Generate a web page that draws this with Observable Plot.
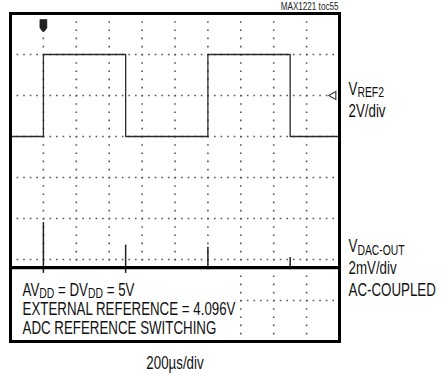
<!DOCTYPE html>
<html><head><meta charset="utf-8">
<script src="https://cdn.jsdelivr.net/npm/d3@7"></script>
<script src="https://cdn.jsdelivr.net/npm/@observablehq/plot@0.6"></script>
<style>
html,body{margin:0;padding:0;background:#fff}
</style></head><body><div id="chart"></div>
<script>
// ---- scope settings ----
const timeDomain = [0, 2000];          // µs, 200 µs/div, 10 divisions
const divDomain = [0, 8];              // vertical divisions
const gridTimes = [200, 400, 600, 800, 1000, 1200, 1400, 1600, 1800];
const gridDivs = [1, 2, 3, 4, 5, 6, 7];

// ---- channel 1: VREF2 (2 V/div) ----
const vrefTimes = [0, 200, 200, 700, 700, 1200, 1200, 1700, 1700, 2000];
const vrefVolts = [0, 0, 4.0, 4.0, 0, 0, 4.0, 4.0, 0, 0];
const vrefZeroDiv = 5;
const vrefVoltsPerDiv = 2;
const vrefMarkerDiv = 6;

// ---- channel 2: VDAC-OUT (2 mV/div, AC-coupled) ----
const dacSpikeTimes = [200, 700, 1200, 1700];
const dacSpikeTop = [2.2, 1.1, 1.0, 0.5];      // mV
const dacSpikeBottom = [-0.5, -0.5, -0.1, -0.1]; // mV
const dacZeroDiv = 1.8;
const dacMilliVoltsPerDiv = 2;

// ---- trigger ----
const triggerTime = 200;

// ---- texts ----
const noteLines = ["AV_{DD} = DV_{DD} = 5V", "EXTERNAL REFERENCE = 4.096V", "ADC REFERENCE SWITCHING"];
const ch1Label = ["V_{REF2}", "2V/div"];
const ch2Label = ["V_{DAC-OUT}", "2mV/div", "AC-COUPLED"];
const timebaseLabel = "200µs/div";
const figureId = "MAX1221 toc55";
const noteBox = {t1: 0, t2: 1370, d1: 0.04, d2: 1.66};

const FONT = '"Liberation Sans", Arial, sans-serif';
const CONDENSE = 0.74;

const vref = vrefTimes.map((t, i) => ({t, y: vrefZeroDiv + vrefVolts[i] / vrefVoltsPerDiv}));
const spikes = dacSpikeTimes.map((t, i) => ({
  t,
  y1: dacZeroDiv + dacSpikeBottom[i] / dacMilliVoltsPerDiv,
  y2: dacZeroDiv + dacSpikeTop[i] / dacMilliVoltsPerDiv
}));

const chart = Plot.plot({
  width: 441,
  height: 375,
  marginLeft: 10,
  marginRight: 102,
  marginTop: 13,
  marginBottom: 34,
  x: {domain: timeDomain, axis: null},
  y: {domain: divDomain, axis: null},
  style: {fontFamily: FONT, background: "white", color: "black", overflow: "visible"},
  marks: [
    Plot.ruleX(gridTimes, {stroke: "#555", strokeWidth: 1.6, strokeDasharray: "1.6,6.6"}),
    Plot.ruleY(gridDivs, {stroke: "#555", strokeWidth: 1.6, strokeDasharray: "1.6,4.98"}),
    Plot.line(vref, {x: "t", y: "y", stroke: "#2a2a2a", strokeWidth: 1.3}),
    Plot.ruleX(spikes, {x: "t", y1: "y1", y2: "y2", stroke: "#222", strokeWidth: 1.5}),
    Plot.ruleY([dacZeroDiv], {stroke: "black", strokeWidth: 3.2}),
    Plot.rect([noteBox], {x1: "t1", x2: "t2", y1: "d1", y2: "d2", fill: "white"}),
    Plot.text([noteLines.join("\n")], {
      frameAnchor: "bottom-left", dx: 12, dy: -59, lineAnchor: "top",
      textAnchor: "start", fontSize: 18, lineHeight: 1.06, fill: "#111"
    }),
    Plot.text([ch1Label.join("\n")], {
      y: () => vrefMarkerDiv, frameAnchor: "right", dx: 9, dy: -16, lineAnchor: "top",
      textAnchor: "start", fontSize: 18, lineHeight: 1.22, fill: "#111"
    }),
    Plot.text([ch2Label.join("\n")], {
      y: () => dacZeroDiv, frameAnchor: "right", dx: 9, dy: -31, lineAnchor: "top",
      textAnchor: "start", fontSize: 18, lineHeight: 1.22, fill: "#111"
    }),
    Plot.text([timebaseLabel], {
      frameAnchor: "bottom", dy: 22, lineAnchor: "middle", fontSize: 18, fill: "#111"
    }),
    Plot.text([figureId], {
      frameAnchor: "top-right", textAnchor: "end", lineAnchor: "middle", dx: -1, dy: -7,
      fontSize: 11, fill: "#222"
    }),
    Plot.dot([triggerTime], {
      x: d => d, frameAnchor: "top", dy: 12, r: 5, fill: "#222", stroke: "#222", strokeWidth: 0.6,
      symbol: {draw(ctx, size) {
        ctx.moveTo(-3.5, -6); ctx.lineTo(3.5, -6); ctx.lineTo(3.5, 2.5);
        ctx.lineTo(0.8, 6); ctx.lineTo(-0.8, 6); ctx.lineTo(-3.5, 2.5); ctx.closePath();
      }}
    }),
    Plot.dot([vrefMarkerDiv], {
      y: d => d, frameAnchor: "right", dx: -6, r: 3, symbol: "triangle", rotate: -90,
      fill: "white", stroke: "#444", strokeWidth: 1.2
    }),
    Plot.frame({stroke: "black", strokeWidth: 3})
  ]
});

// subscripts: turn "_{...}" into real subscript tspans
const NS = "http://www.w3.org/2000/svg";
chart.querySelectorAll("text, tspan").forEach(el => {
  for (const node of Array.from(el.childNodes)) {
    if (node.nodeType !== 3 || !node.nodeValue.includes("_{")) continue;
    const frag = document.createDocumentFragment();
    node.nodeValue.split(/(_\{[^}]*\})/).forEach(p => {
      if (!p) return;
      const m = p.match(/^_\{([^}]*)\}$/);
      if (m) {
        const ts = document.createElementNS(NS, "tspan");
        ts.setAttribute("font-size", "78%");
        ts.setAttribute("baseline-shift", "-18%");
        ts.textContent = m[1];
        frag.appendChild(ts);
      } else frag.appendChild(document.createTextNode(p));
    });
    el.replaceChild(frag, node);
  }
});
// condensed lettering like the original scope plot
chart.querySelectorAll("text").forEach(el => {
  const tr = el.getAttribute("transform") || "";
  el.setAttribute("transform", `${tr} scale(${CONDENSE},1)`);
});

document.getElementById("chart").appendChild(chart);
</script>
</body></html>
